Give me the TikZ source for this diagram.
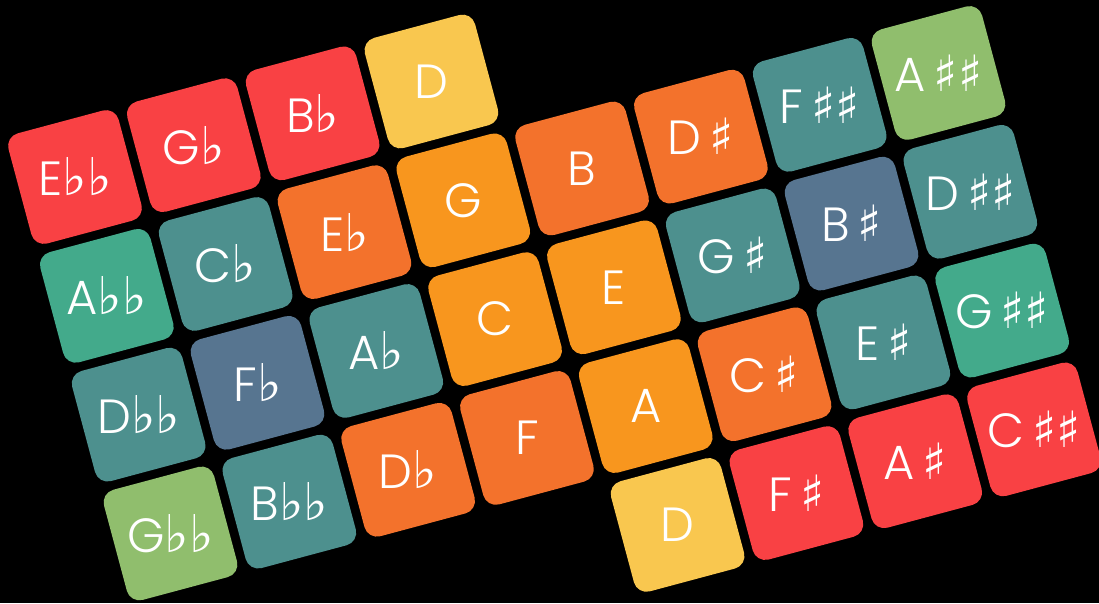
\documentclass[tikz,border=0pt]{standalone}
\usepackage{fontspec}
\setmainfont{Poppins Light}
\newfontfamily\accfont{DejaVu Sans}
\usepackage{tikz}
\usetikzlibrary{positioning}
\definecolor{notered}{HTML}{F94144}
\definecolor{noteorange}{HTML}{F3722C}
\definecolor{noteamber}{HTML}{F8961E}
\definecolor{noteyellow}{HTML}{F9C74F}
\definecolor{notelime}{HTML}{90BE6D}
\definecolor{notegreen}{HTML}{43AA8B}
\definecolor{noteteal}{HTML}{4D908E}
\definecolor{noteblue}{HTML}{577590}
\newcommand{\fl}{{\accfont\fontsize{52}{52}\selectfont ♭}}
\newcommand{\sh}{{\accfont\fontsize{50}{50}\selectfont ♯}}
\tikzstyle{tile} = [rectangle, rounded corners=13pt, minimum size=114pt, inner sep=0pt, rotate=15]
\tikzstyle{note} = [text=white, inner sep=0pt, font=\fontsize{48}{48}\selectfont]

\begin{document}
\begin{tikzpicture}[x=1pt, y=1pt]
    \fill[black] (0,0) rectangle (1099,-603);
    \useasboundingbox (0,0) rectangle (1099,-603);

    \begin{scope}[shift={(75,-177)}, rotate=15]
    % row 0
    \node[tile, fill=notered] (ebb) at (0,0) {};
    \node[note] (ebb-t) at (ebb.center) {E\fl\fl};
    \node[tile, fill=notered] (gb) at (123,0) {};
    \node[note] (gb-t) at (gb.center) {G\fl};
    \node[tile, fill=notered] (bb) at (246,0) {};
    \node[note] (bb-t) at (bb.center) {B\fl};
    \node[tile, fill=noteyellow] (d1) at (369,0) {};
    \node[note] (d1-t) at (d1.center) {D};

    % row 1
    \node[tile, fill=notegreen] (abb) at (0,-123) {};
    \node[note] (abb-t) at (abb.center) {A\fl\fl};
    \node[tile, fill=noteteal] (cb) at (123,-123) {};
    \node[note] (cb-t) at (cb.center) {C\fl};
    \node[tile, fill=noteorange] (eb) at (246,-123) {};
    \node[note] (eb-t) at (eb.center) {E\fl};
    \node[tile, fill=noteamber] (g) at (369,-123) {};
    \node[note] (g-t) at (g.center) {G};
    \node[tile, fill=noteorange] (b) at (492,-123) {};
    \node[note] (b-t) at (b.center) {B};
    \node[tile, fill=noteorange] (dsh) at (615,-123) {};
    \node[note] (dsh-t) at (dsh.center) {D\,\sh};
    \node[tile, fill=noteteal] (fx) at (738,-123) {};
    \node[note] (fx-t) at (fx.center) {F\,\sh\sh};
    \node[tile, fill=notelime] (ax) at (861,-123) {};
    \node[note] (ax-t) at (ax.center) {A\,\sh\sh};

    % row 2
    \node[tile, fill=noteteal] (dbb) at (0,-246) {};
    \node[note] (dbb-t) at (dbb.center) {D\fl\fl};
    \node[tile, fill=noteblue] (fb) at (123,-246) {};
    \node[note] (fb-t) at (fb.center) {F\fl};
    \node[tile, fill=noteteal] (ab) at (246,-246) {};
    \node[note] (ab-t) at (ab.center) {A\fl};
    \node[tile, fill=noteamber] (c) at (369,-246) {};
    \node[note] (c-t) at (c.center) {C};
    \node[tile, fill=noteamber] (e) at (492,-246) {};
    \node[note] (e-t) at (e.center) {E};
    \node[tile, fill=noteteal] (gsh) at (615,-246) {};
    \node[note] (gsh-t) at (gsh.center) {G\,\sh};
    \node[tile, fill=noteblue] (bsh) at (738,-246) {};
    \node[note] (bsh-t) at (bsh.center) {B\,\sh};
    \node[tile, fill=noteteal] (dx) at (861,-246) {};
    \node[note] (dx-t) at (dx.center) {D\,\sh\sh};

    % row 3
    \node[tile, fill=notelime] (gbb) at (0,-369) {};
    \node[note] (gbb-t) at (gbb.center) {G\fl\fl};
    \node[tile, fill=noteteal] (bbb) at (123,-369) {};
    \node[note] (bbb-t) at (bbb.center) {B\fl\fl};
    \node[tile, fill=noteorange] (db) at (246,-369) {};
    \node[note] (db-t) at (db.center) {D\fl};
    \node[tile, fill=noteorange] (f) at (369,-369) {};
    \node[note] (f-t) at (f.center) {F};
    \node[tile, fill=noteamber] (a) at (492,-369) {};
    \node[note] (a-t) at (a.center) {A};
    \node[tile, fill=noteorange] (csh) at (615,-369) {};
    \node[note] (csh-t) at (csh.center) {C\,\sh};
    \node[tile, fill=noteteal] (esh) at (738,-369) {};
    \node[note] (esh-t) at (esh.center) {E\,\sh};
    \node[tile, fill=notegreen] (gx) at (861,-369) {};
    \node[note] (gx-t) at (gx.center) {G\,\sh\sh};

    % row 4
    \node[tile, fill=noteyellow] (d2) at (492,-492) {};
    \node[note] (d2-t) at (d2.center) {D};
    \node[tile, fill=notered] (fsh) at (615,-492) {};
    \node[note] (fsh-t) at (fsh.center) {F\,\sh};
    \node[tile, fill=notered] (ash) at (738,-492) {};
    \node[note] (ash-t) at (ash.center) {A\,\sh};
    \node[tile, fill=notered] (cx) at (861,-492) {};
    \node[note] (cx-t) at (cx.center) {C\,\sh\sh};
    \end{scope}
\end{tikzpicture}
\end{document}
